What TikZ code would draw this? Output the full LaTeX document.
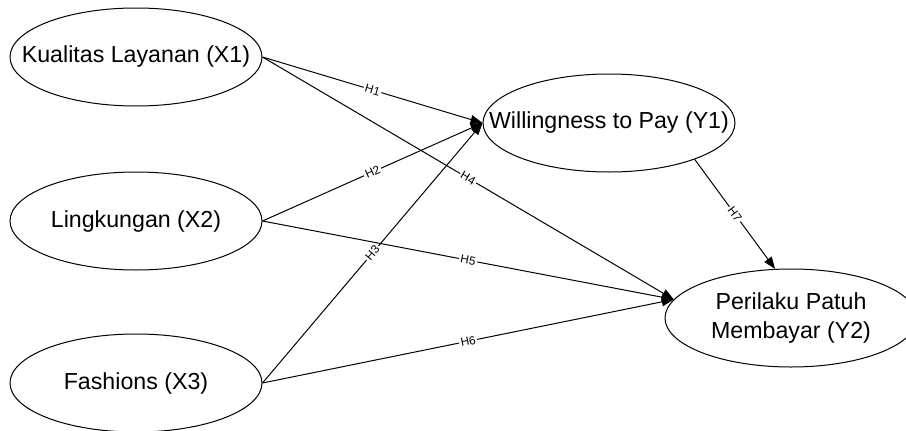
\documentclass[tikz,border=0pt]{standalone}
\usepackage{fontspec}
\setmainfont{Liberation Sans}
\usetikzlibrary{shapes.geometric,arrows.meta}

\begin{document}
\begin{tikzpicture}[
		construct/.style={ellipse,draw,minimum width=126pt,minimum height=49pt,inner xsep=-30pt,inner ysep=0pt,
		align=center,font=\fontsize{11.6}{14.5}\selectfont},
		hyp/.style={midway,sloped,fill=white,inner sep=0.8pt,font=\fontsize{5.9}{7}\selectfont},
		>={Triangle[length=6pt,width=4.5pt]},
		line width=0.5pt,
		node distance=82pt
		]
	\useasboundingbox (0,0) rectangle (453pt,215pt);
	
	% exogenous
	\node[construct](X1) at (68pt,186.5pt){Kualitas Layanan (X1)};
	\node[construct, below of = X1](X2){Lingkungan (X2)};
	\node[construct, below of = X2, yshift = 1pt](X3){Fashions (X3)};
	% endogenous
	\node[construct, right of = X1, xshift = 154.5pt, yshift = -33pt](Y1){Willingness to Pay (Y1)};
	\node[construct, below of = Y1, xshift = 91pt, yshift = -15.5pt](Y2){Perilaku Patuh\\Membayar (Y2)};
	
	\draw[->] (X1.east) -- (Y1.west) node [hyp]{H1};
	\draw[->] (X2.east) -- (Y1.west) node [hyp]{H2};
	\draw[->] (X3.east) -- (Y1.west) node [hyp]{H3};
	\draw[->] (X1.east) -- (Y2.171) node [hyp]{H4};
	\draw[->] (X2.east) -- (Y2.171) node [hyp]{H5};
	\draw[->] (X3.east) -- (Y2.171) node [hyp]{H6};
	\draw[->] (Y1.337) -- (Y2.108) node [hyp]{H7};
\end{tikzpicture}
\end{document}
